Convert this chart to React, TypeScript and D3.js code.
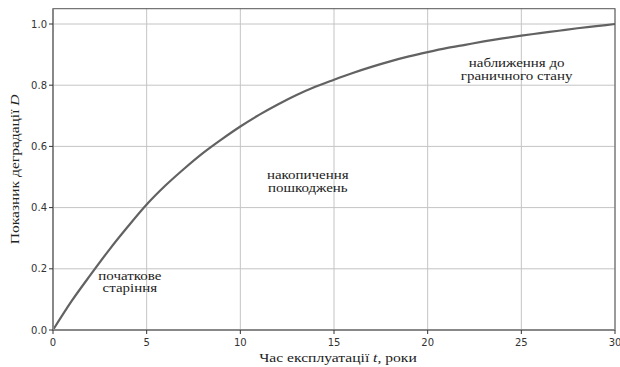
import React from "react";
import * as d3 from "d3";

const years = [0,1,2,3,4,5,6,7,8,9,10,11,12,13,14,15,16,17,18,19,20,21,22,23,24,25,26,27,28,29,30];
const degradation = [0,0.095,0.18,0.262,0.338,0.41,0.472,0.527,0.578,0.623,0.665,0.703,0.737,0.768,0.795,0.818,0.84,0.86,0.878,0.894,0.908,0.921,0.932,0.943,0.953,0.962,0.97,0.978,0.986,0.993,1.0];
const xTicks = [0,5,10,15,20,25,30];
const yTicks = [0,0.2,0.4,0.6,0.8,1.0];
const annotations = [
  { t: 4.1, d: 0.165, lines: ["початкове", "старіння"] },
  { t: 13.6, d: 0.495, lines: ["накопичення", "пошкоджень"] },
  { t: 24.75, d: 0.86, lines: ["наближення до", "граничного стану"] },
];

export default function App() {
  const W = 620, H = 367;
  const left = 53, right = 615, top = 8.7, bottom = 330;
  const x = d3.scaleLinear().domain([0, 30]).range([left, right]);
  const y = d3.scaleLinear().domain([0, 1.05]).range([bottom, top]);
  const line = d3.line<number>().x((_, i) => x(years[i])).y((v) => y(v)).curve(d3.curveMonotoneX);
  const serif = "'Liberation Serif', 'DejaVu Serif', serif";
  const sans = "'DejaVu Sans', sans-serif";
  return (
    <svg width={W} height={H} style={{ position: "absolute", left: 0, top: 0 }}>
      <rect width={W} height={H} fill="#fff" />
      {xTicks.map((t) => (
        <line key={"gx" + t} x1={x(t)} x2={x(t)} y1={top} y2={bottom} stroke="#c4c4c4" strokeWidth={1} />
      ))}
      {yTicks.map((t) => (
        <line key={"gy" + t} x1={left} x2={right} y1={y(t)} y2={y(t)} stroke="#c4c4c4" strokeWidth={1} />
      ))}
      <path d={line(degradation) || ""} fill="none" stroke="#626262" strokeWidth={2.2} />
      <rect x={left} y={top} width={right - left} height={bottom - top} fill="none" stroke="#555" strokeWidth={1} />
      <line x1={left} x2={right} y1={bottom} y2={bottom} stroke="#888" strokeWidth={2} />
      <line x1={left} x2={left} y1={top} y2={bottom} stroke="#888" strokeWidth={2} />
      {xTicks.map((t) => (
        <g key={"tx" + t}>
          <line x1={x(t)} x2={x(t)} y1={bottom} y2={bottom + 4} stroke="#333" strokeWidth={1} />
          <text x={x(t)} y={bottom + 16} textAnchor="middle" fontFamily={sans} fontSize={10} fill="#333">{t}</text>
        </g>
      ))}
      {yTicks.map((t) => (
        <g key={"ty" + t}>
          <line x1={left - 4} x2={left} y1={y(t)} y2={y(t)} stroke="#333" strokeWidth={1} />
          <text x={left - 6} y={y(t) + 3.5} textAnchor="end" fontFamily={sans} fontSize={10} fill="#333">{t.toFixed(1)}</text>
        </g>
      ))}
      {annotations.map((a, i) => (
        <g key={"a" + i} transform={`translate(${x(a.t)},${y(a.d)}) scale(1.3,1)`}>
          <text x={0} y={0} textAnchor="middle" fontFamily={serif} fontSize={11.5} fill="#222">
            {a.lines.map((l, j) => (
              <tspan key={j} x={0} dy={j === 0 ? 0 : 13}>{l}</tspan>
            ))}
          </text>
        </g>
      ))}
      <g transform={`translate(${(left + right) / 2 + 4},362) scale(1.2,1)`}>
        <text x={0} y={0} textAnchor="middle" fontFamily={serif} fontSize={13} fill="#222">
          Час експлуатації <tspan fontStyle="italic">t</tspan>, роки
        </text>
      </g>
      <g transform={`translate(19,${(top + bottom) / 2}) rotate(-90) scale(1.15,1)`}>
        <text x={0} y={0} textAnchor="middle" fontFamily={serif} fontSize={13.5} fill="#222">
          Показник деградації <tspan fontStyle="italic">D</tspan>
        </text>
      </g>
    </svg>
  );
}
